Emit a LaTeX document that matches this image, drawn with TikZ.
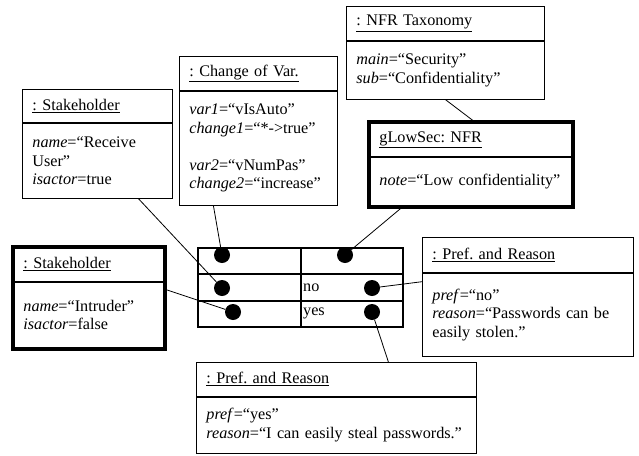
\documentclass[tikz,border=0pt]{standalone}
\usepackage{fontspec}
\setmainfont{Liberation Serif}
\usetikzlibrary{positioning}
\frenchspacing

\tikzset{
  objhead/.style={draw, line width=0.8pt, anchor=north west, align=left, inner xsep=10pt, inner ysep=0pt},
  objbody/.style={draw, line width=0.8pt, align=left, inner xsep=10pt, inner ysep=0pt},
  heavy/.style={line width=4pt},
  cell/.style={draw, line width=1.8pt, minimum height=26pt, anchor=north west, inner sep=0pt},
  dot/.style={circle, fill=black, minimum size=16pt, inner sep=0pt},
  link/.style={line width=0.8pt}
}

\begin{document}
\begin{tikzpicture}[x=1pt, y=-1pt, font=\fontsize{16.2}{18.5}\selectfont]
  \useasboundingbox (0,0) rectangle (639,455);

  % objects
  \node[objhead, text width=130pt, minimum height=33pt](sh1h) at (22,89) {\underline{: Stakeholder}};
  \node[objbody, text width=130pt, minimum height=75pt](sh1)[below=0pt of sh1h] {\textit{name}=“Receive\\User”\\\textit{isactor}=true};

  \node[objhead, text width=138pt, minimum height=34pt](covh) at (179,56) {\underline{: Change of Var.}};
  \node[objbody, text width=138pt, minimum height=114pt](cov)[below=0pt of covh] {\textit{var1}=“vIsAuto”\\\textit{change1}=“*->true”\\[18.5pt]\textit{var2}=“vNumPas”\\\textit{change2}=“increase”};

  \node[objhead, text width=178pt, minimum height=34pt](nfrth) at (346,6) {\underline{: NFR Taxonomy}};
  \node[objbody, text width=178pt, minimum height=58pt](nfrt)[below=0pt of nfrth] {\textit{main}=“Security”\\\textit{sub}=“Confidentiality”};

  \node[objhead, text width=183pt, minimum height=34pt](glowh) at (369,122) {\underline{gLowSec: NFR}};
  \node[objbody, text width=183pt, minimum height=49pt](glow)[below=0pt of glowh] {\textit{note}=“Low confidentiality”};
  \draw[heavy] (glowh.north west) rectangle (glow.south east);

  \node[objhead, text width=131pt, minimum height=34pt](sh2h) at (13,247) {\underline{: Stakeholder}};
  \node[objbody, text width=131pt, minimum height=66pt](sh2)[below=0pt of sh2h] {\textit{name}=“Intruder”\\\textit{isactor}=false};
  \draw[heavy] (sh2h.north west) rectangle (sh2.south east);

  \node[objhead, text width=191pt, minimum height=35pt](prnoh) at (422,237) {\underline{: Pref. and Reason}};
  \node[objbody, text width=191pt, minimum height=83pt](prno)[below=0pt of prnoh] {\textit{pref}=“no”\\\textit{reason}=“Passwords can be\\easily stolen.”};

  \node[objhead, text width=260pt, minimum height=34pt](pryesh) at (196,362) {\underline{: Pref. and Reason}};
  \node[objbody, text width=260pt, minimum height=56pt](pryes)[below=0pt of pryesh] {\textit{pref}=“yes”\\\mbox{\textit{reason}=“I can easily steal passwords.”}};

  % table
  \node[cell, minimum width=103pt](c11) at (197,247) {};
  \node[cell, minimum width=102pt](c12) at (300,247) {};
  \node[cell, minimum width=103pt, minimum height=27pt](c21) at (197,273) {};
  \node[cell, minimum width=102pt, minimum height=27pt](c22) at (300,273) {};
  \node[cell, minimum width=103pt](c31) at (197,300) {};
  \node[cell, minimum width=102pt](c32) at (300,300) {};
  \node[anchor=west, inner xsep=3pt](no) at (c22.west) {no};
  \node[anchor=west, inner xsep=3pt](yes) at (c32.west) {yes};

  \node[dot](d11) at (222,255) {};
  \node[dot](d12) at (345,255) {};
  \node[dot](d21) at (222,288) {};
  \node[dot](d22) at (372,288) {};
  \node[dot](d31) at (233,312) {};
  \node[dot](d32) at (372,312) {};

  % links
  \draw[link]
  ([xshift=41pt]sh1.south) edge (d21)
  ([xshift=-45pt]cov.south) edge (d11)
  ([xshift=-68pt]glow.south) edge (d12)
  (nfrt.south) edge ([xshift=4pt]glowh.north)
  ([yshift=26pt]sh2.east) edge (d31)
  ([yshift=33pt]prno.west) edge (d22)
  ([xshift=52pt]pryesh.north) edge (d32);
\end{tikzpicture}
\end{document}
